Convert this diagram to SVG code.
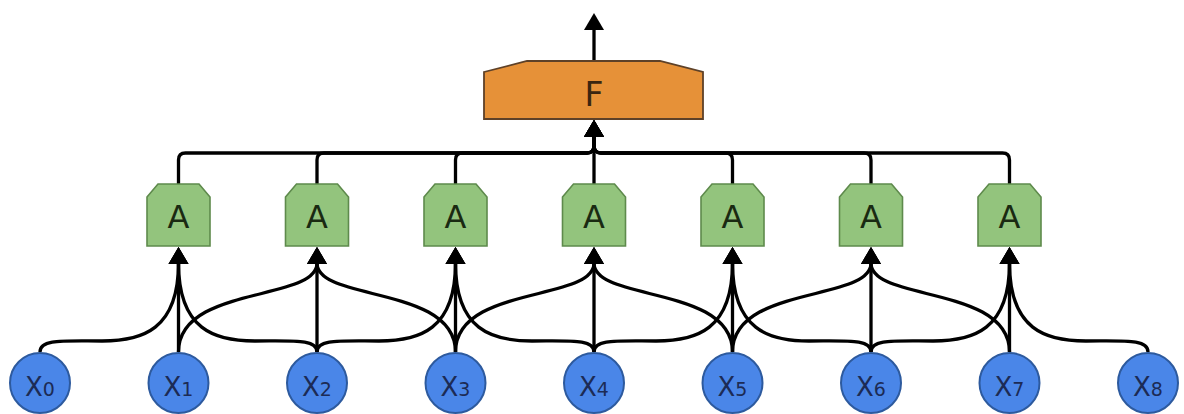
<svg xmlns="http://www.w3.org/2000/svg" xmlns:xlink="http://www.w3.org/1999/xlink" width="1184" height="414" viewBox="0 0 1184 414">
<style>
.e{fill:none;stroke:#000;stroke-width:3.3;marker-end:url(#ah)}
.x{fill:#4a86e8;stroke:#2d5a9e;stroke-width:2}
.a{fill:#93c47d;stroke:#5e8a4c;stroke-width:1.6}
.f{fill:#e69138;stroke:#5e4128;stroke-width:1.8}
.xl{font-family:"DejaVu Sans",sans-serif;font-size:26px;fill:#1c2b55;text-anchor:middle}
.sub{font-size:19px}
.al{font-family:"DejaVu Sans",sans-serif;font-size:32px;fill:#1a2a12;text-anchor:middle}
.fl{font-family:"DejaVu Sans",sans-serif;font-size:33px;fill:#3a2510;text-anchor:middle}
</style>
<defs>
<marker id="ah" markerUnits="userSpaceOnUse" markerWidth="20" markerHeight="22" viewBox="0 -11 20 22" refX="1" refY="0" orient="auto"><path d="M0,-10 L17,0 L0,10 z" fill="#000"/></marker>
<path id="abox" d="M-31.5,197 L-20.5,184 L20.5,184 L31.5,197 L31.5,246 L-31.5,246 Z"/>
</defs>
<rect width="1184" height="414" fill="#fff"/>
<g id="connectors">
<path class="e" d="M594 61 V29"/>
<path class="e" d="M178.5 184 V160 Q178.5 153 185.5 153 H587 Q594 153 594 146 V136"/>
<path class="e" d="M317 184 V160 Q317 153 324 153 H587 Q594 153 594 146 V136"/>
<path class="e" d="M455.5 184 V160 Q455.5 153 462.5 153 H587 Q594 153 594 146 V136"/>
<path class="e" d="M594 184 V136"/>
<path class="e" d="M732.5 184 V160 Q732.5 153 725.5 153 H601 Q594 153 594 146 V136"/>
<path class="e" d="M871 184 V160 Q871 153 864 153 H601 Q594 153 594 146 V136"/>
<path class="e" d="M1009.5 184 V160 Q1009.5 153 1002.5 153 H601 Q594 153 594 146 V136"/>
<path class="e" d="M40 352 C40 339 62 341 102 341 S178.5 330 178.5 263"/>
<path class="e" d="M317 352 C317 339 295 341 255 341 S178.5 330 178.5 263"/>
<path class="e" d="M317 352 C317 339 339 341 379 341 S455.5 330 455.5 263"/>
<path class="e" d="M594 352 C594 339 572 341 532 341 S455.5 330 455.5 263"/>
<path class="e" d="M594 352 C594 339 616 341 656 341 S732.5 330 732.5 263"/>
<path class="e" d="M871 352 C871 339 849 341 809 341 S732.5 330 732.5 263"/>
<path class="e" d="M871 352 C871 339 893 341 933 341 S1009.5 330 1009.5 263"/>
<path class="e" d="M1148 352 C1148 339 1126 341 1086 341 S1009.5 330 1009.5 263"/>
<path class="e" d="M178.5 352 C178.5 285 317 302 317 263"/>
<path class="e" d="M455.5 352 C455.5 285 317 302 317 263"/>
<path class="e" d="M455.5 352 C455.5 285 594 302 594 263"/>
<path class="e" d="M732.5 352 C732.5 285 594 302 594 263"/>
<path class="e" d="M732.5 352 C732.5 285 871 302 871 263"/>
<path class="e" d="M1009.5 352 C1009.5 285 871 302 871 263"/>
<path class="e" d="M178.5 352 V263"/>
<path class="e" d="M317 352 V263"/>
<path class="e" d="M455.5 352 V263"/>
<path class="e" d="M594 352 V263"/>
<path class="e" d="M732.5 352 V263"/>
<path class="e" d="M871 352 V263"/>
<path class="e" d="M1009.5 352 V263"/>
</g>
<g id="F"><path class="f" d="M484,72 L527,61 L660,61 L703,72 L703,119 L484,119 Z"/><text class="fl" x="594" y="106">F</text></g>
<g id="A1"><use xlink:href="#abox" class="a" x="178.5"/><text class="al" x="178.5" y="228">A</text></g>
<g id="A2"><use xlink:href="#abox" class="a" x="317"/><text class="al" x="317" y="228">A</text></g>
<g id="A3"><use xlink:href="#abox" class="a" x="455.5"/><text class="al" x="455.5" y="228">A</text></g>
<g id="A4"><use xlink:href="#abox" class="a" x="594"/><text class="al" x="594" y="228">A</text></g>
<g id="A5"><use xlink:href="#abox" class="a" x="732.5"/><text class="al" x="732.5" y="228">A</text></g>
<g id="A6"><use xlink:href="#abox" class="a" x="871"/><text class="al" x="871" y="228">A</text></g>
<g id="A7"><use xlink:href="#abox" class="a" x="1009.5"/><text class="al" x="1009.5" y="228">A</text></g>
<g id="X0"><circle class="x" cx="40" cy="383" r="30"/><text class="xl" x="40" y="396">X<tspan class="sub">0</tspan></text></g>
<g id="X1"><circle class="x" cx="178.5" cy="383" r="30"/><text class="xl" x="178.5" y="396">X<tspan class="sub">1</tspan></text></g>
<g id="X2"><circle class="x" cx="317" cy="383" r="30"/><text class="xl" x="317" y="396">X<tspan class="sub">2</tspan></text></g>
<g id="X3"><circle class="x" cx="455.5" cy="383" r="30"/><text class="xl" x="455.5" y="396">X<tspan class="sub">3</tspan></text></g>
<g id="X4"><circle class="x" cx="594" cy="383" r="30"/><text class="xl" x="594" y="396">X<tspan class="sub">4</tspan></text></g>
<g id="X5"><circle class="x" cx="732.5" cy="383" r="30"/><text class="xl" x="732.5" y="396">X<tspan class="sub">5</tspan></text></g>
<g id="X6"><circle class="x" cx="871" cy="383" r="30"/><text class="xl" x="871" y="396">X<tspan class="sub">6</tspan></text></g>
<g id="X7"><circle class="x" cx="1009.5" cy="383" r="30"/><text class="xl" x="1009.5" y="396">X<tspan class="sub">7</tspan></text></g>
<g id="X8"><circle class="x" cx="1148" cy="383" r="30"/><text class="xl" x="1148" y="396">X<tspan class="sub">8</tspan></text></g>
</svg>
